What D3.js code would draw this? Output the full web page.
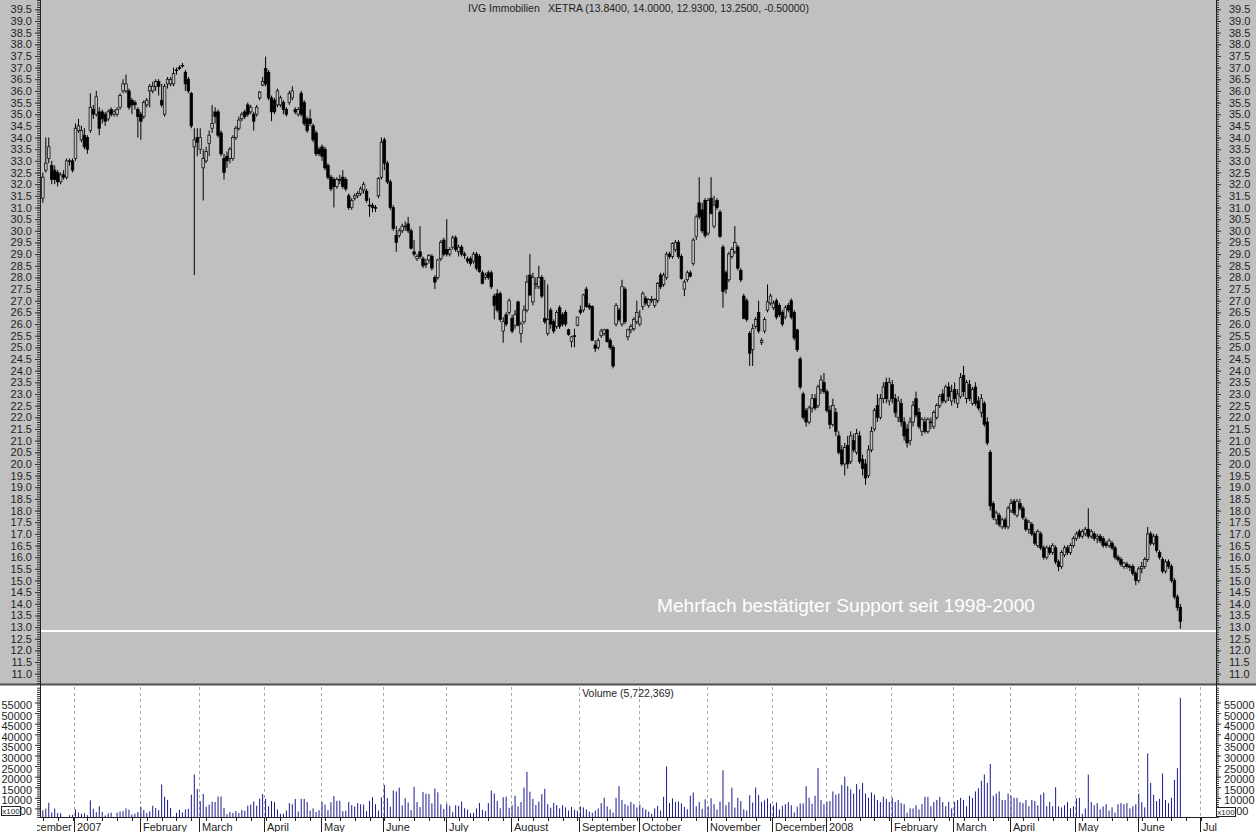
<!DOCTYPE html>
<html><head><meta charset="utf-8">
<script src="https://cdn.jsdelivr.net/npm/d3@7"></script>
<style>
body{margin:0;background:#fff}
svg{display:block;font-family:"Liberation Sans",Arial,sans-serif}
</style>
</head><body>
<svg id="c" width="1256" height="832"></svg>
<script>
// ---- DATA: [open, high, low, close] per trading day, grouped by month ----
const dec06 = [[31.4,32.5,31.2,32.3],[32.6,34.0,32.5,32.9],[33.1,34.0,32.9,33.6],[32.8,33.0,32.0,32.2],[32.6,32.8,32.0,32.2],[32.5,32.6,31.9,32.1],[32.1,32.5,32.0,32.4],[32.4,32.6,32.2,32.3],[32.3,33.1,32.2,33.0],[33.0,33.1,32.8,33.0],[33.0,33.1,32.5,32.6]];
const jan07 = [[33.1,34.6,33.0,34.4],[34.3,34.8,34.2,34.5],[33.9,34.5,33.8,34.3],[34.1,34.4,33.5,33.6],[34.0,34.1,33.3,33.5],[34.3,35.9,34.2,35.3],[35.2,35.4,34.8,35.0],[35.0,36.0,34.9,35.75],[35.1,35.3,34.1,34.4],[35.1,35.2,34.6,34.8],[35.0,35.1,34.5,34.7],[34.8,35.2,34.7,35.1],[35.2,35.3,34.9,35.0],[35.0,35.2,34.9,35.1],[35.0,35.3,34.9,35.2],[35.3,35.9,35.2,35.8],[36.0,36.5,35.9,36.3],[36.0,36.7,35.9,36.3],[36.0,36.1,35.2,35.3],[35.6,35.7,35.0,35.4],[35.5,35.6,35.2,35.4],[35.2,35.3,34.0,34.9]];
const feb07 = [[35.0,35.1,33.9,34.7],[34.9,35.6,34.8,35.5],[35.4,35.7,35.3,35.6],[36.0,36.3,35.3,36.2],[36.0,36.4,35.9,36.2],[36.2,36.5,36.0,36.4],[36.4,36.5,35.8,36.2],[35.6,36.3,35.3,35.4],[35.0,36.3,34.9,36.2],[36.3,36.6,36.1,36.5],[36.3,36.6,36.2,36.5],[36.3,37.0,36.2,36.75],[36.9,37.0,36.7,36.9],[37.0,37.1,36.9,37.0],[37.1,37.2,37.0,37.1],[36.8,36.9,36.0,36.3],[36.5,36.6,35.9,36.0],[35.9,35.95,34.4,34.5],[33.6,34.4,28.1,33.9],[34.0,34.4,33.2,33.8]];
const mar07 = [[33.5,34.4,33.3,34.0],[32.7,33.5,31.3,33.1],[33.0,33.6,32.9,33.4],[33.75,34.3,33.2,34.1],[34.4,35.4,34.2,34.6],[35.1,35.3,34.6,34.9],[35.1,35.2,34.0,34.1],[34.2,34.3,33.2,33.3],[33.1,33.3,32.2,32.5],[33.2,33.4,32.7,33.0],[33.1,33.6,32.9,33.5],[33.1,34.1,33.0,34.0],[34.0,34.5,33.9,34.4],[34.4,34.9,34.3,34.75],[34.8,35.1,34.7,35.0],[35.1,35.2,34.8,34.9],[35.4,35.5,34.9,35.0],[35.1,35.4,35.0,35.3],[35.0,35.1,34.3,34.7],[35.0,35.4,34.9,35.3],[35.7,36.0,35.6,35.95],[36.25,36.6,36.2,36.4]];
const apr07 = [[36.97,37.47,36.2,36.3],[36.8,36.9,35.6,35.7],[35.7,35.8,34.7,35.1],[35.6,35.7,35.0,35.1],[35.4,36.1,35.3,36.0],[35.4,35.8,35.3,35.7],[35.5,35.6,35.0,35.2],[35.2,35.3,34.9,35.0],[35.5,36.0,35.4,35.9],[35.7,36.2,35.6,36.0],[35.2,35.3,35.0,35.1],[35.0,35.3,34.9,35.2],[35.9,36.0,34.9,35.0],[35.5,35.6,34.5,34.6],[34.8,34.9,34.2,34.3],[34.8,35.2,34.5,34.6],[34.5,34.6,33.8,33.9],[34.2,34.3,33.2,33.3],[33.5,33.6,33.2,33.3]];
const may07 = [[33.6,33.7,33.0,33.2],[33.5,33.6,32.6,32.7],[32.8,32.9,32.2,32.3],[32.3,32.4,31.7,31.8],[32.2,32.3,31.0,31.9],[31.9,32.3,31.8,32.2],[32.2,32.4,32.0,32.2],[32.3,32.6,31.8,31.9],[32.2,32.3,31.7,31.8],[31.5,31.6,30.9,31.0],[31.0,31.4,30.9,31.3],[31.4,31.6,31.3,31.5],[31.5,31.7,31.4,31.6],[31.6,31.9,31.5,31.8],[31.75,32.1,31.6,32.0],[31.7,31.8,31.2,31.3],[31.1,31.4,30.6,31.1],[31.1,31.2,30.8,31.0],[31.0,31.1,30.8,31.0],[31.5,32.3,31.4,32.25],[32.3,34.0,32.2,33.8]];
const jun07 = [[33.9,34.0,32.6,32.9],[32.9,33.0,32.0,32.1],[32.1,32.2,30.9,31.0],[31.0,31.1,30.0,30.1],[29.8,30.2,29.1,29.5],[29.8,30.1,29.7,30.0],[30.0,30.3,29.9,30.2],[30.2,30.4,30.0,30.2],[30.3,30.6,29.9,30.0],[30.0,30.1,29.2,29.25],[29.1,29.6,28.9,29.0],[28.8,29.0,28.7,28.9],[29.1,30.2,28.8,28.9],[28.8,28.9,28.4,28.5],[28.6,28.8,28.4,28.55],[28.75,29.0,28.6,28.95],[28.9,29.0,28.3,28.4],[28.0,28.1,27.5,27.8],[28.0,28.8,27.9,28.75],[28.8,29.6,28.7,29.5],[29.6,29.7,28.9,29.0]];
const jul07 = [[29.2,30.5,28.9,29.0],[29.0,29.3,28.9,29.2],[29.3,29.8,29.2,29.7],[29.7,29.8,29.1,29.2],[29.1,29.4,28.9,29.3],[29.3,29.4,28.9,29.0],[29.0,29.1,28.8,28.95],[28.8,28.9,28.6,28.7],[28.8,28.9,28.5,28.6],[28.7,29.1,28.6,29.0],[29.0,29.1,28.3,28.4],[28.9,29.0,28.2,28.25],[28.2,28.3,27.7,27.75],[28.0,28.2,27.9,28.1],[28.2,28.3,27.9,28.0],[28.2,28.3,27.5,27.6],[27.2,27.3,26.2,26.8],[27.3,27.5,26.5,26.6],[27.3,27.4,26.1,26.2],[25.7,26.3,25.2,26.1],[26.4,26.5,25.9,26.0],[26.5,27.1,26.4,27.0]];
const aug07 = [[26.25,26.4,25.6,25.7],[25.95,26.6,25.8,26.4],[26.95,27.0,25.9,25.95],[25.6,26.1,25.2,26.0],[26.1,26.8,26.0,26.6],[26.6,28.1,26.5,27.8],[28.1,29.0,27.2,27.25],[26.95,28.2,26.8,28.0],[27.7,28.0,27.5,27.75],[27.6,28.5,27.5,28.0],[28.0,28.1,27.1,27.2],[26.25,27.9,26.0,26.1],[25.6,27.7,25.5,26.2],[26.6,26.7,25.8,26.0],[26.1,26.2,25.6,25.7],[25.9,26.6,25.8,26.5],[26.7,26.8,25.8,25.9],[26.4,26.5,25.9,26.0],[26.5,26.6,25.9,26.0],[25.75,25.8,25.5,25.55],[25.25,25.5,25.0,25.45],[25.5,25.8,25.0,25.5],[25.95,26.3,25.9,26.3]];
const sep07 = [[26.6,26.8,26.4,26.5],[26.6,27.3,26.5,27.25],[27.5,27.6,26.7,26.75],[26.8,26.9,26.6,26.7],[26.75,26.8,25.3,25.3],[25.1,25.3,24.8,24.95],[25.0,25.4,24.9,25.3],[25.5,25.8,25.4,25.7],[25.6,25.8,25.5,25.75],[25.75,25.8,25.2,25.25],[25.3,25.4,24.9,25.0],[25.0,25.1,24.1,24.2],[26.0,26.9,25.9,26.8],[26.6,26.7,26.1,26.2],[26.0,27.9,25.9,27.6],[27.5,27.6,26.0,26.1],[25.45,25.8,25.3,25.75],[25.75,26.0,25.6,25.9],[25.8,26.3,25.7,26.2],[26.1,27.0,26.0,26.5]];
const oct07 = [[26.0,26.6,25.9,26.3],[26.75,27.4,26.6,27.3],[27.1,27.2,26.8,26.9],[26.8,27.1,26.7,27.05],[27.0,27.2,26.9,27.05],[26.8,27.1,26.7,27.05],[27.0,27.8,26.9,27.75],[28.1,28.2,27.5,27.6],[27.7,28.2,27.6,28.1],[28.0,29.1,27.9,29.0],[29.0,29.1,28.8,28.9],[28.9,29.5,28.8,29.45],[29.2,29.6,29.1,29.5],[29.5,29.6,28.8,28.9],[28.9,29.0,27.9,27.95],[27.5,27.9,27.2,27.8],[27.9,28.3,27.8,28.2],[28.2,28.3,28.0,28.05],[28.6,29.7,28.5,29.6],[29.75,30.7,29.6,30.6],[31.2,32.3,30.5,30.6],[30.9,31.2,29.9,30.0],[31.3,31.4,29.7,29.8]];
const nov07 = [[29.9,31.4,29.8,31.3],[31.4,32.3,30.7,30.75],[30.2,31.5,30.1,31.1],[31.3,31.4,30.9,31.0],[30.8,30.9,29.7,29.75],[29.3,29.4,26.7,27.4],[28.2,28.3,27.3,27.5],[27.9,29.1,27.8,29.0],[28.9,29.3,28.8,29.2],[29.1,30.2,29.0,29.5],[29.3,29.4,28.3,28.4],[28.3,28.4,27.8,27.9],[27.2,27.3,26.2,26.25],[27.0,27.1,26.1,26.2],[25.6,25.7,24.2,24.75],[24.9,26.0,24.2,25.8],[25.9,26.3,25.8,26.2],[26.5,27.0,25.6,25.7],[25.2,25.4,25.1,25.3],[25.7,26.3,25.6,26.2],[26.6,27.7,26.5,26.95],[26.9,27.3,26.8,27.2]];
const dec07 = [[26.7,27.0,26.6,26.9],[27.0,27.1,26.2,26.3],[26.8,26.9,26.3,26.4],[26.5,26.6,25.9,26.0],[26.3,26.8,26.2,26.7],[26.8,26.9,26.5,26.6],[27.0,27.1,26.2,26.3],[26.5,26.6,25.3,25.4],[25.75,25.8,24.8,24.9],[24.5,24.6,23.2,23.3],[23.0,23.1,21.9,22.0],[22.3,22.4,21.6,21.8],[21.8,22.5,21.7,22.4],[22.4,23.0,22.2,22.8],[22.8,23.0,22.3,22.4],[22.5,23.4,22.4,23.3],[23.2,23.8,23.0,23.6],[23.5,23.9,23.0,23.1]];
const jan08 = [[23.1,23.2,22.2,22.3],[22.3,22.5,21.5,21.7],[21.7,22.8,21.6,22.5],[22.2,22.4,21.2,21.4],[21.2,21.4,20.4,20.5],[20.6,20.8,19.9,20.0],[20.0,20.9,19.5,20.7],[20.8,21.2,19.8,20.0],[20.1,21.4,20.0,21.2],[21.0,21.3,20.5,20.6],[20.5,21.5,20.4,21.3],[21.2,21.4,20.0,20.1],[20.2,20.4,19.5,19.8],[20.0,20.2,19.1,19.4],[19.5,20.8,19.4,20.6],[20.6,21.6,20.5,21.4],[21.5,22.4,21.4,22.3],[22.5,23.0,21.8,22.0],[22.0,23.0,21.9,22.8],[22.8,23.5,22.6,23.3],[23.5,23.7,22.6,22.8],[22.7,23.7,22.5,23.5]];
const feb08 = [[23.4,23.6,22.6,22.8],[22.8,23.0,22.0,22.2],[22.0,22.9,21.8,22.7],[22.6,22.8,21.6,21.8],[21.8,22.0,21.0,21.2],[21.5,21.7,20.7,20.9],[21.0,22.0,20.8,21.8],[21.8,22.7,21.6,22.5],[22.8,23.1,22.0,22.1],[22.2,22.4,21.5,21.6],[21.4,22.0,21.2,21.9],[21.8,22.0,21.3,21.4],[21.4,22.0,21.3,21.9],[21.8,22.0,21.5,21.8],[21.6,22.3,21.5,22.2],[22.0,22.6,21.9,22.5],[22.5,23.0,22.4,22.9],[23.0,23.2,22.6,22.7],[22.7,23.4,22.6,23.3],[23.3,23.5,22.7,22.9],[22.7,23.4,22.5,23.1]];
const mar08 = [[23.2,23.5,22.6,22.8],[22.6,23.2,22.4,23.0],[22.9,23.9,22.8,23.7],[23.8,24.2,22.9,23.1],[22.8,23.6,22.6,23.5],[23.4,23.6,22.7,22.8],[22.6,23.3,22.5,23.2],[23.3,23.5,22.5,22.6],[22.7,22.9,22.3,22.4],[22.2,23.0,22.0,22.8],[22.6,22.7,21.6,21.7],[21.8,22.0,20.8,20.9],[20.5,20.6,18.0,18.2],[18.3,18.4,17.6,17.7],[17.6,18.0,17.4,17.9],[17.8,17.9,17.3,17.4],[17.3,17.7,17.2,17.6],[17.6,17.7,17.2,17.3],[17.3,18.2,17.2,18.1]];
const apr08 = [[18.0,18.5,17.9,18.3],[18.4,18.5,17.8,17.9],[17.8,18.5,17.7,18.4],[18.3,18.5,18.0,18.1],[18.1,18.2,17.6,17.7],[17.6,17.7,17.1,17.2],[17.2,17.6,17.0,17.5],[17.4,17.5,16.9,17.0],[17.0,17.1,16.5,16.6],[16.5,17.2,16.4,17.1],[17.0,17.1,16.3,16.4],[16.4,16.5,15.9,16.0],[16.0,16.5,15.9,16.4],[16.4,16.5,16.1,16.2],[16.2,16.6,16.1,16.5],[16.4,16.5,15.7,15.8],[15.8,15.9,15.4,15.6],[15.6,16.3,15.5,16.2],[16.1,16.5,16.0,16.4],[16.4,16.5,16.1,16.2],[16.2,16.6,16.1,16.5],[16.5,16.9,16.4,16.8]];
const may08 = [[16.8,17.1,16.7,17.0],[17.1,17.2,16.8,16.9],[16.9,17.2,16.8,17.1],[17.0,17.3,16.9,17.2],[17.2,18.1,16.8,16.9],[16.9,17.2,16.8,17.1],[17.0,17.1,16.7,16.8],[16.8,17.0,16.6,16.9],[16.9,17.0,16.6,16.7],[16.8,16.9,16.4,16.5],[16.6,16.7,16.4,16.5],[16.5,16.8,16.4,16.7],[16.6,16.7,16.3,16.4],[16.4,16.5,15.9,16.0],[16.0,16.1,15.8,15.9],[15.9,16.0,15.6,15.7],[15.6,15.8,15.5,15.75],[15.7,15.8,15.5,15.6],[15.6,15.7,15.4,15.6],[15.6,15.7,15.2,15.3],[15.3,15.4,14.8,15.0]];
const jun08 = [[15.0,15.6,14.9,15.5],[15.5,15.8,15.3,15.6],[15.6,16.0,15.5,15.9],[15.9,17.3,15.8,17.0],[17.0,17.1,16.5,16.6],[16.6,17.0,16.5,16.9],[16.9,17.0,16.2,16.3],[16.2,16.3,15.9,16.0],[15.9,16.0,15.3,15.4],[15.4,15.9,15.3,15.8],[15.8,15.9,15.5,15.6],[15.6,15.7,14.9,15.0],[15.0,15.1,14.2,14.3],[14.3,14.4,13.7,13.84],[13.84,14.0,12.93,13.25]];

// volume (x100 shares) per trading day, same grouping
const vDec06 = [4100,4900,7700,3100,4900,2800,2700,800,1000,1800,2000];
const vJan07 = [4500,3000,2500,2700,1800,8800,4800,3200,6000,3300,1700,2700,3000,700,3000,3500,3700,5000,4400,2100,2500,3300];
const vFeb07 = [5800,4200,2800,3600,6300,5200,4200,16300,10500,9000,5200,1100,2900,4300,3100,4500,4800,11500,21000,14200];
const vMar07 = [8400,11800,5800,6800,8200,8000,10600,10600,5300,2300,3400,2900,3700,2800,4300,3900,6300,6800,8300,6300,9600,11800];
const vApr07 = [9500,6000,8500,8000,4500,2500,2500,4000,7500,7000,9500,3500,9500,9500,8000,4000,5000,3300,4200];
const vMay07 = [8000,6800,4200,7900,10800,8600,8600,3700,3900,8000,6500,5900,7500,7000,6800,3800,8600,10300,7000,4000,10200];
const vJun07 = [16000,9800,5800,13500,13000,14800,6400,9800,7800,4200,15200,8000,5600,12800,12000,11800,7400,14400,12600,6900,4700];
const vJul07 = [7200,6300,3200,6500,6200,8300,5100,4400,2700,2900,5000,7600,4300,3800,7500,13400,12000,8500,5100,10300,10600,5300];
const vAug07 = [6500,11000,6000,8000,14800,22300,12900,9500,6600,8200,11700,14300,7000,5300,7600,6600,5000,6500,5500,4000,5700,4400,3900];
const vSep07 = [6000,5500,4500,3500,3000,4000,5000,7500,10000,6000,4500,3000,10000,15500,9000,7000,6300,8000,7000,5500];
const vOct07 = [6800,5400,4500,3500,2500,5000,6200,4000,10500,24800,7500,9700,8000,8300,7400,5700,4600,11000,12500,6000,8000,4800,9300];
const vNov07 = [6000,9800,7000,4500,8200,23000,6500,8000,14800,5400,10000,8500,4500,4000,11200,7800,14900,11300,8100,8800,9700,7300];
const vDec07 = [6400,7800,4500,6200,7000,8000,6500,3100,5800,7300,7400,15500,10000,7200,11000,24000,9000,7000];
const vJan08 = [8000,8500,13000,11500,12000,16000,20000,15500,14000,12000,16500,14000,17000,12000,10000,12500,11500,9000,8000,10500,9500,8000];
const vFeb08 = [10000,8000,9000,7500,7000,3000,5000,5000,6500,4500,7000,10500,10500,6000,8000,9000,10500,8000,6000,8000,5000];
const vMar08 = [8000,9000,10000,9000,6000,11000,10000,13000,14500,18000,21000,17000,26000,11000,12000,13000,9000,9000,12000];
const vApr08 = [11000,10000,10000,8000,7500,9000,6000,9000,8500,6500,11500,12500,6000,8000,6000,15000,6000,5500,6500,8000,5000,6000];
const vMay08 = [9800,10000,2500,5000,21000,8000,6500,7500,4500,6000,7000,4000,5500,3000,7000,7500,7000,7500,5000,6000,7000];
const vJun08 = [12000,8000,5500,31000,17000,11500,8500,9500,21500,9000,7500,10000,18500,24000,57200];

// trading-day index of first candle (0 = 2 Jan 2007)
const firstIndex = -11;
// month axis: labels and trading-day index of each month's first day
const monthLabels = ["December","2007","February","March","April","May","June","July","August","September","October","November","December","2008","February","March","April","May","June","Jul"];
const monthStarts = [-19,0,22,42,64,83,104,125,147,170,190,213,235,253,275,296,315,337,358,379];
const priceTicks = d3.range(11, 39.51, 0.5);
const volumeTicks = d3.range(5000, 55001, 5000);
const supportLevel = 12.83;
const titleLeft = "IVG Immobilien";
const titleRight = "XETRA (13.8400, 14.0000, 12.9300, 13.2500, -0.50000)";
const volumeTitle = "Volume (5,722,369)";
const noteText = "Mehrfach bestätigter Support seit 1998-2000";

// ---- build ----
const ohlc = [].concat(dec06,jan07,feb07,mar07,apr07,may07,jun07,jul07,aug07,sep07,oct07,nov07,dec07,jan08,feb08,mar08,apr08,may08,jun08);
const vols = [].concat(vDec06,vJan07,vFeb07,vMar07,vApr07,vMay07,vJun07,vJul07,vAug07,vSep07,vOct07,vNov07,vDec07,vJan08,vFeb08,vMar08,vApr08,vMay08,vJun08);
const data = ohlc.map((d,k)=>({i:firstIndex+k,o:d[0],h:d[1],l:d[2],c:d[3],v:vols[k]}));

const W=1256,H=832, L=40, R=1216, pTop=0, pBot=684, vTop=686, vBot=817;
const svg = d3.select("#c");
const x = d3.scaleLinear().domain([-12, 384]).range([39.86, R]);
const yP = d3.scaleLinear().domain([10.56, 39.9]).range([pBot, pTop]);
const yV = d3.scaleLinear().domain([0, 55000]).range([819, 702.5]);
const lineX = i => x(i) - 1.2;

// backgrounds
svg.append("rect").attr("x",0).attr("y",0).attr("width",W).attr("height",pBot+1).attr("fill","#c0c0c0");
svg.append("rect").attr("x",0).attr("y",pBot+1).attr("width",W).attr("height",H-pBot-1).attr("fill","#ffffff");
svg.append("line").attr("x1",0).attr("x2",W).attr("y1",pBot+0.5).attr("y2",pBot+0.5).attr("stroke","#505050").attr("stroke-width",2);

const txtCol = "#1e1e1e";

// price axes (left/right) with minor ticks
function priceAxis(side){
  const g = svg.append("g");
  const major = side==="left" ? d3.axisLeft(yP) : d3.axisRight(yP);
  major.tickValues(priceTicks).tickSize(5).tickSizeOuter(0).tickFormat(d3.format(".1f")).tickPadding(side==="left"?3:8);
  const minor = side==="left" ? d3.axisLeft(yP) : d3.axisRight(yP);
  minor.tickValues(d3.range(10.6, 39.95, 0.1)).tickSize(3).tickSizeOuter(0).tickFormat("");
  const gx = side==="left" ? L : R;
  const gm = g.append("g").attr("transform",`translate(${gx},0)`).call(minor);
  const gM = g.append("g").attr("transform",`translate(${gx},0)`).call(major);
  [gm,gM].forEach(a=>{a.select(".domain").remove(); a.selectAll("line").attr("stroke","#303030");});
  gM.selectAll("text").attr("font-size",11).attr("fill",txtCol).attr("font-family","Liberation Sans, Arial, sans-serif");
}
priceAxis("left"); priceAxis("right");

// volume axes
function volAxis(side){
  const g = svg.append("g");
  const major = side==="left" ? d3.axisLeft(yV) : d3.axisRight(yV);
  major.tickValues(volumeTicks).tickSize(5).tickSizeOuter(0).tickFormat(d3.format("d")).tickPadding(side==="left"?3:3);
  const minor = side==="left" ? d3.axisLeft(yV) : d3.axisRight(yV);
  minor.tickValues(d3.range(1000, 62001, 1000).filter(v=>yV(v)>=vTop && yV(v)<=vBot)).tickSize(3).tickSizeOuter(0).tickFormat("");
  const gx = side==="left" ? L : R;
  const gm = g.append("g").attr("transform",`translate(${gx},0)`).call(minor);
  const gM = g.append("g").attr("transform",`translate(${gx},0)`).call(major);
  [gm,gM].forEach(a=>{a.select(".domain").remove(); a.selectAll("line").attr("stroke","#303030");});
  gM.selectAll("text").attr("font-size",11).attr("fill",txtCol).attr("dy","0.55em").attr("font-family","Liberation Sans, Arial, sans-serif");
}
volAxis("left"); volAxis("right");

// axis lines
[L,R].forEach(xx=>svg.append("line").attr("x1",xx+0.5).attr("x2",xx+0.5).attr("y1",0).attr("y2",vBot).attr("stroke","#202020"));
svg.append("line").attr("x1",L).attr("x2",R).attr("y1",vBot+0.5).attr("y2",vBot+0.5).attr("stroke","#202020");

// x100 boxes
function boxLabel(bx,by){
  svg.append("rect").attr("x",bx+0.5).attr("y",by+0.5).attr("width",19).attr("height",9).attr("fill","#fff").attr("stroke","#202020");
  svg.append("text").attr("x",bx+10).attr("y",by+8).attr("text-anchor","middle").attr("font-size",8).attr("fill",txtCol).text("x100");
}
boxLabel(1,806); boxLabel(1216,807);

// month grid (volume panel), ticks and labels
const monthData = monthLabels.map((m,k)=>({label:m, i:monthStarts[k]}));
svg.append("g").selectAll("line").data(monthData.filter(d=>lineX(d.i)>L+2 && lineX(d.i)<R)).join("line")
  .attr("x1",d=>Math.round(lineX(d.i))+0.5).attr("x2",d=>Math.round(lineX(d.i))+0.5)
  .attr("y1",vTop+1).attr("y2",vBot).attr("stroke","#a8a8a8").attr("stroke-dasharray","3,3");
svg.append("defs").append("clipPath").attr("id","lblclip").append("rect").attr("x",37).attr("y",vBot).attr("width",W-37).attr("height",H-vBot);
const lab = svg.append("g").attr("clip-path","url(#lblclip)");
lab.selectAll("line").data(monthData).join("line")
  .attr("x1",d=>Math.round(lineX(d.i))+0.5).attr("x2",d=>Math.round(lineX(d.i))+0.5)
  .attr("y1",vBot).attr("y2",H).attr("stroke","#202020");
lab.selectAll("text").data(monthData).join("text")
  .attr("x",d=>Math.round(lineX(d.i))+3).attr("y",830.5).attr("font-size",11).attr("fill",txtCol).text(d=>d.label);
// weekly minor ticks under the axis (every 5 trading days from the first Monday of 2007)
const weekIdx = d3.range(-16, 384, 5).filter(i=>x(i)>L+1 && x(i)<R-1);
svg.append("g").selectAll("line").data(weekIdx).join("line")
  .attr("x1",i=>Math.round(x(i))+0.5).attr("x2",i=>Math.round(x(i))+0.5)
  .attr("y1",vBot).attr("y2",vBot+4).attr("stroke","#202020");

// volume bars
svg.append("g").selectAll("rect").data(data).join("rect")
  .attr("x",d=>x(d.i)-0.5).attr("width",1)
  .attr("y",d=>Math.min(yV(d.v),vBot)).attr("height",d=>Math.max(0,vBot-yV(d.v)))
  .attr("fill","#1a1a8e");

// candles
const cg = svg.append("g");
cg.selectAll("line").data(data).join("line")
  .attr("x1",d=>x(d.i)).attr("x2",d=>x(d.i)).attr("y1",d=>yP(d.h)).attr("y2",d=>yP(d.l))
  .attr("stroke","#000").attr("stroke-width",1);
cg.selectAll("rect").data(data).join("rect")
  .attr("x",d=>x(d.i)-1.3).attr("width",2.6)
  .attr("y",d=>yP(Math.max(d.o,d.c))).attr("height",d=>Math.max(0.8,Math.abs(yP(d.o)-yP(d.c))))
  .attr("fill",d=>d.c>d.o?"#c0c0c0":"#000").attr("stroke","#000").attr("stroke-width",0.7);

// support line + note
svg.append("line").attr("x1",L+1).attr("x2",R).attr("y1",yP(supportLevel)).attr("y2",yP(supportLevel)).attr("stroke","#ffffff").attr("stroke-width",2);
svg.append("text").attr("x",657).attr("y",612).attr("font-size",19.1).attr("fill","#ffffff").text(noteText);

// titles
svg.append("text").attr("x",468).attr("y",12).attr("font-size",10.5).attr("fill",txtCol).text(titleLeft);
svg.append("text").attr("x",548).attr("y",12).attr("font-size",10.5).attr("fill",txtCol).text(titleRight);
svg.append("text").attr("x",(L+R)/2).attr("y",697).attr("text-anchor","middle").attr("font-size",10.5).attr("fill",txtCol).text(volumeTitle);
</script>
</body></html>
